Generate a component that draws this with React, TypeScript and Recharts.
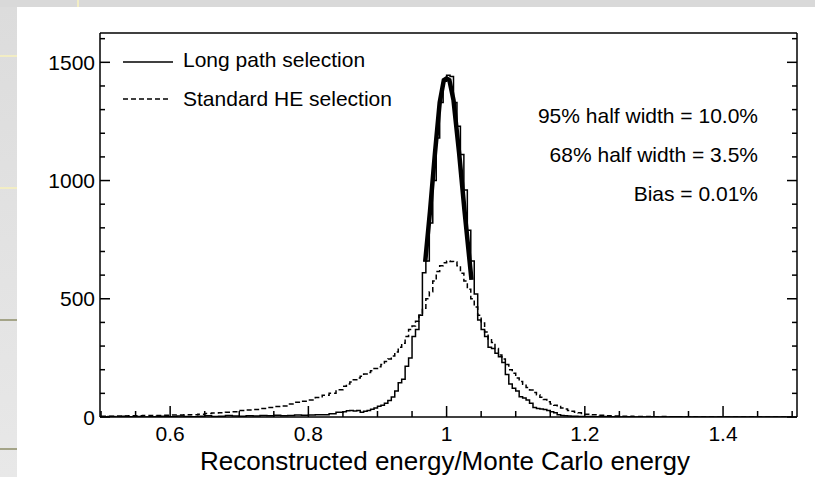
import { ComposedChart, Line, XAxis, YAxis } from "recharts"

// bin lower edges: 0.01 wide in the tails, 0.005 wide around the peak
const leftEdges = [
    0.50, 0.51, 0.52, 0.53, 0.54, 0.55, 0.56, 0.57, 0.58, 0.59,
    0.60, 0.61, 0.62, 0.63, 0.64, 0.65, 0.66, 0.67, 0.68, 0.69,
    0.70, 0.71, 0.72, 0.73, 0.74, 0.75, 0.76, 0.77, 0.78, 0.79,
    0.80, 0.81, 0.82, 0.83, 0.84
]

const midEdges = [
    0.850, 0.855, 0.860, 0.865, 0.870, 0.875, 0.880, 0.885, 0.890, 0.895,
    0.900, 0.905, 0.910, 0.915, 0.920, 0.925, 0.930, 0.935, 0.940, 0.945,
    0.950, 0.955, 0.960, 0.965, 0.970, 0.975, 0.980, 0.985, 0.990, 0.995,
    1.000, 1.005, 1.010, 1.015, 1.020, 1.025, 1.030, 1.035, 1.040, 1.045,
    1.050, 1.055, 1.060, 1.065, 1.070, 1.075, 1.080, 1.085, 1.090, 1.095,
    1.100, 1.105, 1.110, 1.115, 1.120, 1.125, 1.130, 1.135, 1.140, 1.145,
    1.150, 1.155, 1.160, 1.165, 1.170, 1.175, 1.180, 1.185, 1.190, 1.195
]

const rightEdges = [
    1.20, 1.21, 1.22, 1.23, 1.24, 1.25, 1.26, 1.27, 1.28, 1.29,
    1.30, 1.31, 1.32, 1.33, 1.34, 1.35, 1.36, 1.37, 1.38, 1.39,
    1.40, 1.41, 1.42, 1.43, 1.44, 1.45, 1.46, 1.47, 1.48, 1.49
]

const lastEdge = 1.5

// Long path selection (solid)
const longPathLeft = [
    1, 2, 0, 3, 1, 2, 0, 1, 3, 2,
    1, 4, 2, 1, 3, 5, 2, 3, 6, 4,
    3, 5, 4, 6, 5, 7, 5, 6, 8, 7,
    8, 10, 10, 14, 20
]

const longPathMid = [
    22, 26, 28, 25, 27, 20, 24, 28, 33, 38,
    45, 50, 58, 70, 85, 110, 145, 160, 215, 250,
    340, 370, 430, 610, 660, 820, 1000, 1180, 1330, 1420,
    1445, 1440, 1330, 1230, 1110, 960, 790, 660, 520, 410,
    370, 340, 295, 290, 270, 255, 230, 180, 140, 122,
    110, 86, 80, 72, 58, 40, 36, 34, 32, 28,
    22, 18, 9, 6, 5, 4, 3, 3, 2, 2
]

const longPathRight = [
    2, 1, 2, 1, 1, 0, 1, 0, 0, 1,
    0, 0, 0, 1, 0, 0, 0, 0, 0, 0,
    0, 0, 0, 0, 0, 0, 0, 0, 0, 0
]

// Standard HE selection (dashed)
const standardLeft = [
    3, 3, 4, 4, 5, 5, 6, 6, 6, 7,
    8, 8, 9, 10, 12, 15, 17, 18, 20, 22,
    27, 30, 32, 36, 40, 44, 47, 55, 62, 67,
    72, 82, 92, 100, 115
]

const standardMid = [
    130, 140, 148, 158, 165, 172, 182, 188, 196, 205,
    212, 222, 235, 245, 258, 275, 295, 312, 340, 370,
    385, 405, 430, 460, 500, 530, 575, 615, 640, 652,
    660, 658, 655, 640, 608, 575, 540, 500, 465, 430,
    398, 360, 330, 315, 290, 262, 245, 222, 200, 185,
    165, 150, 138, 125, 114, 104, 94, 84, 74, 64,
    55, 50, 44, 38, 34, 28, 24, 20, 18, 15
]

const standardRight = [
    12, 9, 7, 5, 4, 3, 3, 2, 2, 2,
    1, 2, 1, 1, 1, 1, 0, 0, 0, 0,
    0, 0, 0, 0, 0, 0, 0, 0, 0, 0
]

// thick curve over the long path peak
const fitX = [0.969, 0.976, 0.983, 0.990, 0.996, 1.000, 1.004, 1.010, 1.018, 1.026, 1.036]
const fitY = [656, 870, 1110, 1330, 1425, 1432, 1425, 1340, 1120, 870, 580]

const majorXTicks = [0.6, 0.8, 1, 1.2, 1.4]
const xTicks = [0.5, 0.55, 0.6, 0.65, 0.7, 0.75, 0.8, 0.85, 0.9, 0.95, 1, 1.05, 1.1, 1.15, 1.2, 1.25, 1.3, 1.35, 1.4, 1.45, 1.5]
const majorYTicks = [0, 500, 1000, 1500]
const yTicks = [0, 100, 200, 300, 400, 500, 600, 700, 800, 900, 1000, 1100, 1200, 1300, 1400, 1500, 1600]

const FONT = "'Liberation Sans', Arial, Helvetica, sans-serif"

const binEdges = [...leftEdges, ...midEdges, ...rightEdges]

function toSteps(values: number[]) {
    const pts = binEdges.map((x, i) => ({ x, y: values[i] }))
    pts.push({ x: lastEdge, y: values[values.length - 1] })
    return pts
}

const longPath = toSteps([...longPathLeft, ...longPathMid, ...longPathRight])
const standard = toSteps([...standardLeft, ...standardMid, ...standardRight])
const fit = fitX.map((x, i) => ({ x, y: fitY[i] }))

const xDomain = [0.4985, 1.507]
const yDomain = [0, 1624]

const axisStyle = { stroke: "#000", strokeWidth: 1.5 }

const isMajor = (list: number[], v: number) => list.some(m => Math.abs(m - v) < 1e-6)

// ticks point into the plot; labels only on bottom and left
function TickMark(props: any) {
    const { x, y, payload, side } = props
    const v = payload.value
    const major = side === "bottom" || side === "top" ? isMajor(majorXTicks, v) : isMajor(majorYTicks, v)
    const len = major ? 11 : 6
    let line
    if (side === "bottom") line = <line x1={x} y1={y} x2={x} y2={y - len} {...axisStyle} />
    else if (side === "top") line = <line x1={x} y1={y} x2={x} y2={y + len} {...axisStyle} />
    else if (side === "left") line = <line x1={x} y1={y} x2={x + len - 1} y2={y} {...axisStyle} />
    else line = <line x1={x} y1={y} x2={x - len + 1} y2={y} {...axisStyle} />
    return (
        <g>
            {line}
            {major && side === "bottom" &&
                <text x={x} y={y + 24} textAnchor="middle" fontSize={21} fontFamily={FONT} fill="#000">{String(v)}</text>}
            {major && side === "left" &&
                <text x={x - 5} y={y + 7.5} textAnchor="end" fontSize={21} fontFamily={FONT} fill="#000">{String(v)}</text>}
        </g>
    )
}

export default function App() {

    return (

        <div style={{ position: "absolute", left: 0, top: 0, width: 815, height: 477, background: "#d9d9d9", overflow: "hidden" }}>

            <div style={{ position: "absolute", left: 0, top: 7, width: 17, height: 470, background: "linear-gradient(#dcdcdc, #e8e8e8)" }} />
            <div style={{ position: "absolute", left: 0, top: 55, width: 17, height: 2, background: "#f2edc4" }} />
            <div style={{ position: "absolute", left: 0, top: 187, width: 17, height: 2, background: "#f2edc4" }} />
            <div style={{ position: "absolute", left: 0, top: 319, width: 17, height: 2, background: "#a4a488" }} />
            <div style={{ position: "absolute", left: 0, top: 448, width: 17, height: 2, background: "#a4a488" }} />
            <div style={{ position: "absolute", left: 77, top: 0, width: 2, height: 7, background: "#f2edc4" }} />
            <div style={{ position: "absolute", left: 17, top: 7, right: 0, bottom: 0, background: "#fff" }} />

            <div style={{ position: "absolute", left: 0, top: 0 }}>
                <ComposedChart width={815} height={477} margin={{ top: 32, right: 17, bottom: 59, left: 99 }}>

                    <XAxis xAxisId="x" dataKey="x" type="number" domain={xDomain} allowDataOverflow
                        orientation="bottom" height={1} ticks={xTicks} interval={0}
                        tickSize={0} tickMargin={0} axisLine={axisStyle} tickLine={false}
                        tick={<TickMark side="bottom" />} />
                    <XAxis xAxisId="xTop" type="number" domain={xDomain} allowDataOverflow
                        orientation="top" height={1} ticks={xTicks} interval={0}
                        tickSize={0} tickMargin={0} axisLine={axisStyle} tickLine={false}
                        tick={<TickMark side="top" />} />

                    <YAxis yAxisId="y" type="number" domain={yDomain} allowDataOverflow
                        orientation="left" width={1} ticks={yTicks} interval={0}
                        tickSize={0} tickMargin={0} axisLine={axisStyle} tickLine={false}
                        tick={<TickMark side="left" />} />
                    <YAxis yAxisId="yRight" type="number" domain={yDomain} allowDataOverflow
                        orientation="right" width={1} ticks={yTicks} interval={0}
                        tickSize={0} tickMargin={0} axisLine={axisStyle} tickLine={false}
                        tick={<TickMark side="right" />} />

                    <Line xAxisId="x" yAxisId="y" data={standard} dataKey="y" type="stepAfter"
                        stroke="#000" strokeWidth={1.5} strokeDasharray="5 3" dot={false} isAnimationActive={false} />
                    <Line xAxisId="x" yAxisId="y" data={longPath} dataKey="y" type="stepAfter"
                        stroke="#000" strokeWidth={1.5} dot={false} isAnimationActive={false} />
                    <Line xAxisId="x" yAxisId="y" data={fit} dataKey="y" type="linear"
                        stroke="#000" strokeWidth={4.5} dot={false} isAnimationActive={false} />

                </ComposedChart>
            </div>

            <svg width={815} height={477} style={{ position: "absolute", left: 0, top: 0, pointerEvents: "none" }}
                fontFamily={FONT} fill="#000">
                <line x1={123} y1={62} x2={173} y2={62} stroke="#000" strokeWidth={1.5} />
                <text x={183} y={67} fontSize={21}>Long path selection</text>
                <line x1={123} y1={99} x2={171} y2={99} stroke="#000" strokeWidth={1.5} strokeDasharray="5 3" />
                <text x={183} y={105.5} fontSize={21}>Standard HE selection</text>

                <text x={758} y={123} fontSize={21} textAnchor="end">95% half width = 10.0%</text>
                <text x={758} y={161.5} fontSize={21} textAnchor="end">68% half width = 3.5%</text>
                <text x={758} y={200.5} fontSize={21} textAnchor="end">Bias = 0.01%</text>

                <text x={445} y={470} fontSize={26} textAnchor="middle">Reconstructed energy/Monte Carlo energy</text>
            </svg>

        </div>

    )

}
